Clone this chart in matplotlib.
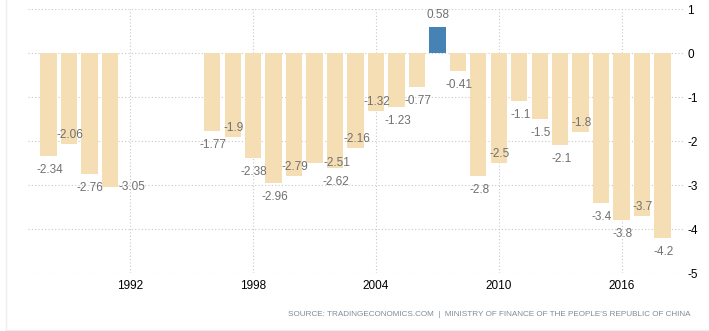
"""China government budget (% of GDP) - bar chart in the Trading Economics style."""

import matplotlib
matplotlib.use('Agg')
import matplotlib.pyplot as plt
from matplotlib.lines import Line2D

# Data
years = [1988, 1989, 1990, 1991,
         1996, 1997, 1998, 1999, 2000, 2001, 2002, 2003, 2004, 2005,
         2006, 2007, 2008, 2009, 2010, 2011, 2012, 2013, 2014, 2015,
         2016, 2017, 2018]
values = [-2.34, -2.06, -2.76, -3.05,
          -1.77, -1.9, -2.38, -2.96, -2.79, -2.51, -2.62, -2.16, -1.32, -1.23,
          -0.77, 0.58, -0.41, -2.8, -2.5, -1.1, -1.5, -2.1, -1.8, -3.4,
          -3.8, -3.7, -4.2]
labels = ['-2.34', '-2.06', '-2.76', '-3.05',
          '-1.77', '-1.9', '-2.38', '-2.96', '-2.79', '-2.51', '-2.62', '-2.16',
          '-1.32', '-1.23', '-0.77', '0.58', '-0.41', '-2.8', '-2.5', '-1.1',
          '-1.5', '-2.1', '-1.8', '-3.4', '-3.8', '-3.7', '-4.2']
# where each value label sits relative to the bar end
label_side = ['b', 'a', 'b', 'r',
              'b', 'a', 'b', 'b', 'a', 'r', 'b', 'a', 'a', 'b',
              'b', 'a', 'b', 'b', 'a', 'b', 'b', 'b', 'a', 'b',
              'b', 'a', 'b']
x_ticks = [1992, 1998, 2004, 2010, 2016]
y_ticks = [1, 0, -1, -2, -3, -4, -5]
source = "SOURCE: TRADINGECONOMICS.COM  |  MINISTRY OF FINANCE OF THE PEOPLE'S REPUBLIC OF CHINA"

plt.rcParams['font.family'] = ['Liberation Sans', 'DejaVu Sans']

W, H = 709, 331
fig = plt.figure(figsize=(W / 100, H / 100), dpi=100)
ax = fig.add_axes([28 / W, (H - 273) / H, (683 - 28) / W, (273 - 9) / H])

colors = ['#4682B4' if v > 0 else '#F5DEB3' for v in values]
ax.bar(years, values, width=0.8, color=colors, zorder=2)

offsets = {'b': (1, -14), 'a': (1, 9), 'r': (22, 0)}
for yr, v, txt, side in zip(years, values, labels, label_side):
    dx, dy = offsets[side]
    if v > 0:
        dy = 12
    ax.annotate(txt, (yr, v), xytext=(dx, dy), textcoords='offset pixels',
                ha='center', va='center', fontsize=8.5, color='#707070', zorder=3)

ax.set_xlim(1987, 2019)
ax.set_ylim(-5, 1)
ax.set_xticks(x_ticks)
ax.set_xticklabels([str(t) for t in x_ticks])
ax.set_yticks(y_ticks)
ax.set_yticklabels([str(t) for t in y_ticks])
ax.yaxis.tick_right()
ax.tick_params(axis='both', length=0, labelsize=8.5, colors='black')
ax.tick_params(axis='x', pad=5)
ax.tick_params(axis='y', pad=3)

ax.grid(True, color='#c8c8c8', linestyle=(0, (1, 2)), linewidth=0.8, zorder=0)
ax.set_axisbelow(True)
for s in ax.spines.values():
    s.set_visible(False)

fig.text(691 / W, 1 - 314 / H, source, ha='right', va='center',
         fontsize=5.9, color='#7f8c99')

# faint frame around the widget
fig.add_artist(Line2D([5.5 / W, 5.5 / W], [1 - 329.5 / H, 1], transform=fig.transFigure,
                      color='#eeeeee', linewidth=1))
fig.add_artist(Line2D([5.5 / W, 1], [1 - 329.5 / H, 1 - 329.5 / H], transform=fig.transFigure,
                      color='#eeeeee', linewidth=1))

fig.savefig('out.png', dpi=100)
